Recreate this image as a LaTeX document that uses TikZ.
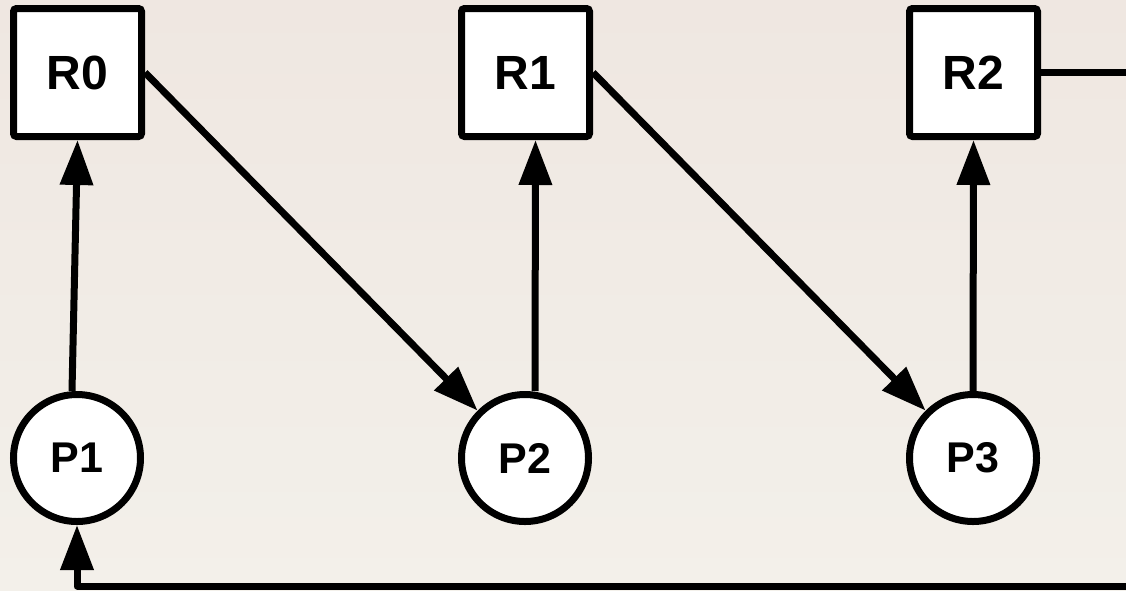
\documentclass[tikz,border=0pt]{standalone}
\usepackage{fontspec}
\setmainfont{Liberation Sans}
\usetikzlibrary{arrows.meta}
\tikzset{
  rbox/.style={draw, line width=7pt, fill=white, rectangle, rounded corners=3pt,
    minimum size=128pt, inner sep=0pt, font=\fontsize{48}{56}\selectfont\bfseries},
  pcirc/.style={draw, line width=7pt, fill=white, circle,
    minimum size=127pt, inner sep=0pt, font=\fontsize{43}{50}\selectfont\bfseries},
  conn/.style={line width=7pt, -{Triangle[length=45pt, width=32pt]}},
  plain/.style={line width=7pt, line join=round},
}
\definecolor{bgtop}{RGB}{239,231,225}
\definecolor{bgbot}{RGB}{243,240,234}
\begin{document}
\begin{tikzpicture}[x=1pt, y=-1pt]
  \useasboundingbox (0,0) rectangle (1126,590);
  \clip (0,0) rectangle (1126,590);
  \shade[top color=bgtop, bottom color=bgbot] (0,0) rectangle (1126,590);

  \node[rbox] (R0) at (77.5,72.5) {R0};
  \node[rbox] (R1) at (525.5,72.5) {R1};
  \node[rbox] (R2) at (973.5,72.5) {R2};

  \node[pcirc] (P1) at (77,458) {P1};
  \node[pcirc] (P2) at (525,458) {P2};
  \node[pcirc] (P3) at (973,458) {P3};

  \coordinate (Rout) at (1140,72.5);
  \coordinate (Bin) at (1140,586);
  \coordinate (Bcorner) at (77,586);

  \draw[conn] ([xshift=-5pt]P1.north) -- (R0.south);
  \draw[conn] (R0.east) -- (P2.135);
  \draw[conn] ([xshift=10pt]P2.north) -- ([xshift=10pt]R1.south);
  \draw[conn] (R1.east) -- (P3.135);
  \draw[conn] (P3.north) -- (R2.south);
  \draw[plain] (R2.east) -- (Rout);
  \draw[conn, line join=round] (Bin) -- (Bcorner) -- (P1.south);
\end{tikzpicture}
\end{document}
